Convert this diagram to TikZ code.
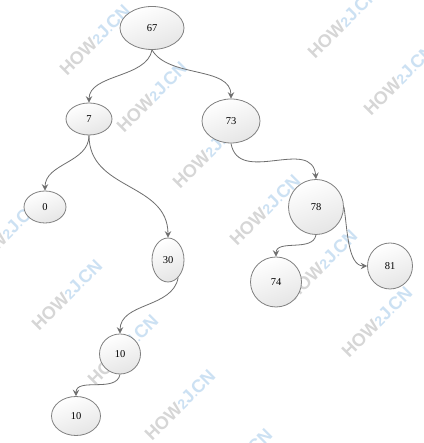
\documentclass[tikz,border=0pt]{standalone}
\usepackage{fontspec}
\setmainfont{Liberation Serif}
\newfontfamily\wmfont{Liberation Sans}
\usetikzlibrary{arrows.meta,shapes.geometric}
\definecolor{edgegray}{HTML}{6E6E6E}
\definecolor{rimgray}{HTML}{808080}
\definecolor{wmgray}{HTML}{D6D6D6}
\definecolor{wmblue}{HTML}{CCE1F3}
\newcommand{\wmark}{\textcolor{wmgray}{HOW}\textcolor{wmblue}{{\fontsize{14}{14}\selectfont 2}J{\fontsize{12}{12}\selectfont .}CN}}
\begin{document}
\begin{tikzpicture}[x=1pt,y=1pt,
  treenode/.style={ellipse, draw=rimgray, line width=0.8pt, inner sep=0pt,
    top color=white, bottom color=black!10, shading angle=20,
    font=\fontsize{10.5}{10.5}\selectfont},
  link/.style={draw=edgegray, line width=0.8pt,
    -{Stealth[length=6.5pt,width=6.5pt,inset=2.5pt]}},
  wm/.style={rotate=45, font=\wmfont\bfseries\fontsize{18}{18}\selectfont, inner sep=0pt}]
\useasboundingbox (0,0) rectangle (423,443);
\fill[white] (0,0) rectangle (423,443);

% background watermark
\begin{scope}
\clip (0,0) rectangle (423,443);
\foreach \p in {(95,403),(152,346),(208,290),(265,233),(322,178),(377,121),
                (343,420),(399,363),(5,208),(67,148),(123,93),(180,38),(237,-21)}
  \node[wm] at \p {\wmark};
\end{scope}

% tree nodes
\node[treenode, minimum width=64pt, minimum height=43pt] (n67) at (152,415) {67};
\node[treenode, minimum width=46pt, minimum height=32pt] (n7)  at (89,324)  {7};
\node[treenode, minimum width=58pt, minimum height=44pt] (n73) at (231,322) {73};
\node[treenode, minimum width=42pt, minimum height=32pt] (n0)  at (45,236)  {0};
\node[treenode, minimum width=32pt, minimum height=44pt] (n30) at (168,183) {30};
\node[treenode, minimum width=55pt, minimum height=55pt] (n78) at (316,236) {78};
\node[treenode, minimum width=51pt, minimum height=50pt] (n74) at (276,161) {74};
\node[treenode, minimum width=45pt, minimum height=46pt] (n81) at (390,177) {81};
\node[treenode, minimum width=41pt, minimum height=40pt] (n10a) at (120,89) {10};
\node[treenode, minimum width=49pt, minimum height=39pt] (n10b) at (76,27)  {10};

% connectors
\draw[link] (n67.south) to[out=-100,in=90,looseness=0.9] (n7.north);
\draw[link] (n67.south) to[out=-60,in=90,looseness=0.9] (n73.north);
\draw[link] (n7.south) to[out=-90,in=90] (n0.north);
\draw[link] (n7.south) to[out=-90,in=90,looseness=1.1] (n30.north);
\draw[link] (n73.south) to[out=-80,in=95,looseness=1.2] (n78.north);
\draw[link] (n78.south) to[out=-100,in=90] (n74.north);
\draw[link] (n78.east) to[out=-80,in=180,looseness=0.8] (n81.west);
\draw[link] (n30.-60) to[out=-100,in=90] (n10a.north);
\draw[link] (n10a.south) to[out=-100,in=90] (n10b.north);
\end{tikzpicture}
\end{document}
